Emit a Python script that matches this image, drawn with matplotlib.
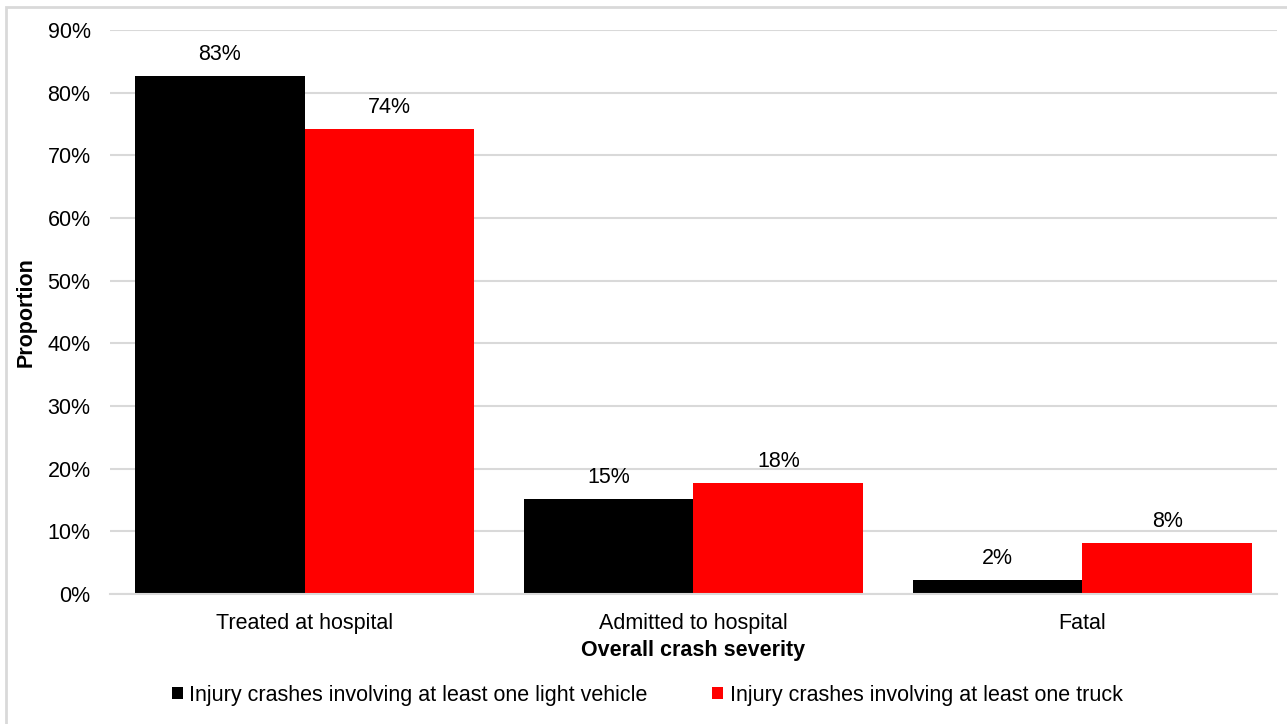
import numpy as np
import matplotlib
matplotlib.use('Agg')
import matplotlib.pyplot as plt
from matplotlib.patches import Rectangle
from matplotlib.ticker import PercentFormatter

plt.rcParams['font.family'] = ['Liberation Sans', 'DejaVu Sans']

# data
categories = ['Treated at hospital', 'Admitted to hospital', 'Fatal']
light_vehicle = [82.7, 15.2, 2.2]
truck = [74.2, 17.7, 8.1]
series_names = ['Injury crashes involving at least one light vehicle',
                'Injury crashes involving at least one truck']
label_light = ['83%', '15%', '2%']
label_truck = ['74%', '18%', '8%']

fs = 15.5

fig = plt.figure(figsize=(12.87, 7.24), dpi=100)
ax = fig.add_axes([0.0855, 0.1796, 0.9067, 0.779])

x = np.arange(len(categories))
w = 0.436
b1 = ax.bar(x - w/2, light_vehicle, w, color='black', label=series_names[0])
b2 = ax.bar(x + w/2, truck, w, color='#ff0000', label=series_names[1])

for bars, labs in ((b1, label_light), (b2, label_truck)):
    for r, t in zip(bars, labs):
        ax.annotate(t, (r.get_x() + r.get_width()/2, r.get_height()),
                    xytext=(0, 8), textcoords='offset points',
                    ha='center', va='bottom', fontsize=fs)

ax.set_xlim(-0.5, 2.5)
ax.set_ylim(0, 90)
ax.set_yticks(np.arange(0, 91, 10))
ax.yaxis.set_major_formatter(PercentFormatter(decimals=0))
ax.set_xticks(x)
ax.set_xticklabels(categories)
ax.tick_params(axis='both', length=0, labelsize=fs)
ax.tick_params(axis='y', pad=14)
ax.tick_params(axis='x', pad=14)
ax.grid(axis='y', color='#d9d9d9', lw=1.5)
ax.set_axisbelow(True)
for s in ['top', 'right', 'left']:
    ax.spines[s].set_visible(False)
ax.spines['bottom'].set_color('#d9d9d9')
ax.spines['bottom'].set_linewidth(1.5)

ax.set_xlabel('Overall crash severity', fontsize=fs, fontweight='bold', labelpad=4)
ax.set_ylabel('Proportion', fontsize=fs, fontweight='bold', labelpad=8)

leg = fig.legend(loc='center', bbox_to_anchor=(0.503, 0.04), ncol=2, frameon=False,
                 fontsize=fs, handlelength=0.5, handleheight=0.5,
                 handletextpad=0.3, columnspacing=3.0)

fig.patches.append(Rectangle((6/1287, -0.01), 1.0, 1 - 7/724 + 0.01,
                             transform=fig.transFigure, fill=False,
                             edgecolor='#d9d9d9', lw=2))

fig.savefig('out.png', dpi=100)
